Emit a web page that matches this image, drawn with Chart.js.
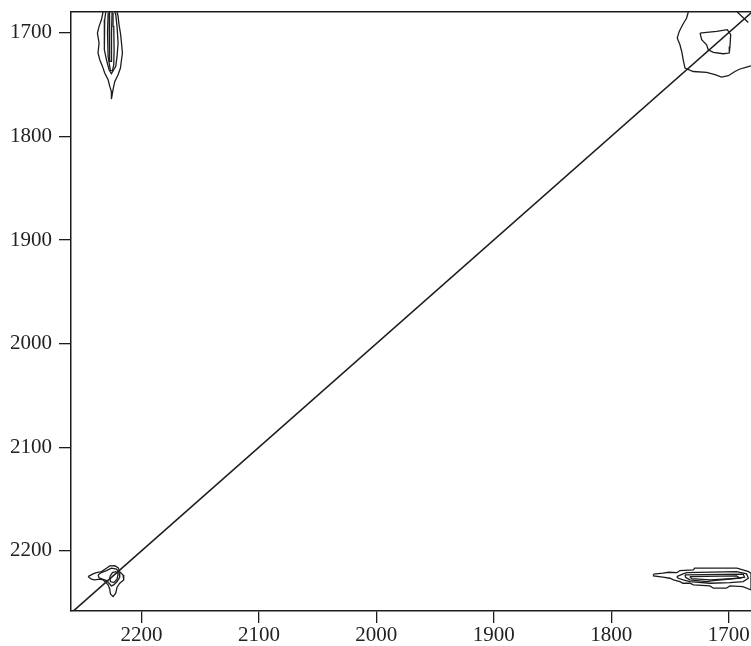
<!DOCTYPE html>
<html>
<head>
<meta charset="utf-8">
<script src="https://cdn.jsdelivr.net/npm/chart.js@4/dist/chart.umd.min.js"></script>
<style>
  body { margin: 0; background: #fff; }
  #wrap { width: 751px; height: 646px; position: relative; }
</style>
</head>
<body>
<div id="wrap"><canvas id="chart" width="751" height="646"></canvas></div>
<script>
// axis ticks (wavenumbers, both axes run high -> low)
const xTickValues = [2200, 2100, 2000, 1900, 1800, 1700];
const yTickValues = [1700, 1800, 1900, 2000, 2100, 2200];

// diagonal x = y
const diagonal = [[2260, 2260], [1680, 1680]];

// cross peak top-left (x ~2225, y ~1700)
const peakTL1 = [[2232.7,1680],[2234.1,1687.5],[2236.1,1693.9],[2237.5,1700.3],[2236.1,1709.9],[2237,1719.6],[2235.5,1726.1],[2233.2,1732.5],[2231.3,1738.9],[2228.4,1745.4],[2227,1751.8],[2225.6,1756.7],[2225.6,1764],[2224.2,1755],[2222.7,1747],[2219.9,1740.5],[2217.9,1734.1],[2217,1726.1],[2216.2,1719.6],[2217,1709.9],[2217.9,1700.3],[2219.1,1692.3],[2219.9,1684.3],[2220.8,1680]];
const peakTL2 = [[2230.4,1680],[2231.3,1687.5],[2231.9,1700.3],[2231.3,1716.4],[2229.8,1726.1],[2227.6,1735.7],[2225.6,1739.6],[2221.9,1732.5],[2220.8,1722.9],[2219.9,1709.9],[2220.8,1693.9],[2221.9,1682.6],[2222.7,1680]];
const peakTL3 = [[2228.4,1681],[2228.9,1700.3],[2228.4,1723],[2227,1732.6],[2226.4,1736.5],[2224.7,1736.5],[2223.6,1731],[2223.3,1716.4],[2223.6,1693.9],[2224.2,1681]];
const peakTL4 = [[2227.6,1680],[2227.3,1700],[2227,1727.7],[2225.6,1727.7],[2225.5,1700],[2225,1680]];

// auto peak bottom-left (~2225, 2225)
const peakBL1 = [[2245.5,2224.8],[2241.2,2222.2],[2238.3,2220.9],[2234.1,2220],[2229.8,2216.7],[2227,2214.5],[2222.7,2214.2],[2219.9,2216.1],[2218.5,2220],[2215.7,2223.2],[2215.1,2228],[2218.5,2231.2],[2220.8,2235],[2221.9,2240.8],[2224.2,2244.1],[2226.4,2241.5],[2227,2237],[2228.4,2232.8],[2232.7,2228],[2235.5,2227.3],[2239.8,2228],[2242.6,2227.3],[2245.5,2224.8]];
const peakBL2 = [[2237,2223.2],[2234.1,2220.9],[2229.8,2219],[2225.6,2216.7],[2221.3,2217.6],[2219.1,2220.9],[2218.5,2225.4],[2220.8,2229.6],[2223.6,2232.8],[2225.6,2233.8],[2227.6,2231.2],[2229.8,2228.6],[2233.2,2227.3],[2236.1,2226],[2237,2223.2]];
const peakBL3 = [[2227,2224.8],[2224.7,2221],[2221.9,2220],[2219.9,2222.2],[2220.8,2227.3],[2223.6,2230.6],[2226.4,2229.6],[2227,2224.8]];

// cross peak bottom-right (~1720, 2225)
const peakBR1 = [[1764,2222.5],[1756,2221.5],[1751,2220.6],[1744,2221],[1741.5,2219],[1730,2218.3],[1729,2216.7],[1693,2216.7],[1688,2218.3],[1683,2220],[1681,2221.5],[1681,2237.6],[1688,2234.5],[1699,2233.8],[1702,2236],[1713,2236],[1716,2233.8],[1730,2232.8],[1733,2231.2],[1739,2231.2],[1741.5,2229.6],[1747,2228],[1750,2226.4],[1756,2225.4],[1764,2224.1],[1764,2222.5]];
const peakBR2 = [[1744.3,2224.8],[1738.7,2222.2],[1735.8,2221],[1693.2,2220],[1684.7,2222.2],[1683.3,2226.4],[1687.6,2229.6],[1698.9,2230.6],[1715.9,2231.2],[1733.1,2229.6],[1738.7,2228],[1742.9,2226.4],[1744.3,2224.8]];
const peakBR3 = [[1737.2,2223.2],[1687.6,2222.5],[1686.5,2225.4],[1698.9,2227.3],[1713.2,2228.6],[1718.8,2229.6],[1733.1,2228],[1736.7,2225.4],[1737.2,2223.2]];
const peakBR4 = [[1733.1,2224.8],[1693.2,2224.1],[1690.4,2226.4],[1715.9,2228],[1731.6,2226.7],[1733.1,2224.8]];

// auto peak top-right (~1700, 1700)
const peakTR1 = [[1734.4,1680],[1735.8,1685.8],[1739.2,1692.3],[1742.1,1698.7],[1743.8,1705.1],[1741.5,1711.6],[1740,1718.1],[1738.7,1726.1],[1737.2,1734.1],[1730.2,1737.4],[1718.8,1738.3],[1711.7,1740.5],[1706,1742.8],[1700.3,1741.5],[1694.7,1737.4],[1690.4,1735],[1684.7,1733.1],[1681,1732]];
const peakTR2 = [[1724.4,1700.3],[1718.8,1699.7],[1710.2,1698.7],[1701.2,1697.1],[1698.3,1701.9],[1698.9,1713.2],[1699.5,1719.6],[1704.6,1720.3],[1713.1,1719],[1717.4,1716.4],[1718.8,1711.6],[1723,1706.8],[1724.4,1700.3]];
const peakTR3 = [[1692.7,1680],[1688,1685],[1683.3,1690.1]];

const contours = [peakTL1, peakTL2, peakTL3, peakTL4, peakBL1, peakBL2, peakBL3,
  peakBR1, peakBR2, peakBR3, peakBR4, peakTR1, peakTR2, peakTR3];

const lineColor = '#1c1c1c';
const toPoints = arr => arr.map(p => ({ x: p[0], y: p[1] }));

const datasets = contours.map(c => ({
  data: toPoints(c),
  showLine: true,
  borderColor: lineColor,
  borderWidth: 1.3,
  pointRadius: 0,
  tension: 0,
  fill: false
}));
datasets.push({
  data: toPoints(diagonal),
  showLine: true,
  borderColor: lineColor,
  borderWidth: 1.6,
  pointRadius: 0,
  fill: false
});

const tickFont = { family: '"Liberation Serif", "DejaVu Serif", serif', size: 21 };
const plainLabel = v => String(v);

new Chart(document.getElementById('chart'), {
  type: 'scatter',
  data: { datasets },
  options: {
    responsive: false,
    animation: false,
    events: [],
    layout: { padding: 0 },
    plugins: {
      legend: { display: false },
      tooltip: { enabled: false }
    },
    scales: {
      x: {
        type: 'linear',
        position: 'bottom',
        reverse: true,
        min: 1681,
        max: 2260,
        afterBuildTicks: s => { s.ticks = xTickValues.map(v => ({ value: v })); },
        afterFit: s => { s.height = 35; s.paddingLeft = 0; s.paddingRight = 0; },
        grid: { display: true, drawOnChartArea: false, drawTicks: true, tickLength: 12, color: lineColor, lineWidth: 1.3 },
        border: { display: true, color: lineColor, width: 1.5 },
        ticks: { font: tickFont, color: '#222', padding: 0, maxRotation: 0, callback: plainLabel }
      },
      xTop: {
        type: 'linear',
        position: 'top',
        min: 1681,
        max: 2260,
        afterFit: s => { s.height = 12; s.paddingLeft = 0; s.paddingRight = 0; },
        grid: { display: false },
        border: { display: true, color: lineColor, width: 1.5 },
        ticks: { display: false }
      },
      y: {
        type: 'linear',
        reverse: true,
        min: 1680,
        max: 2258,
        afterBuildTicks: s => { s.ticks = yTickValues.map(v => ({ value: v })); },
        afterFit: s => { s.width = 71; s.paddingTop = 0; s.paddingBottom = 0; },
        grid: { display: true, drawOnChartArea: false, drawTicks: true, tickLength: 12, color: lineColor, lineWidth: 1.3 },
        border: { display: true, color: lineColor, width: 1.5 },
        ticks: { font: tickFont, color: '#222', padding: 7, callback: plainLabel }
      }
    }
  }
});
</script>
</body>
</html>
